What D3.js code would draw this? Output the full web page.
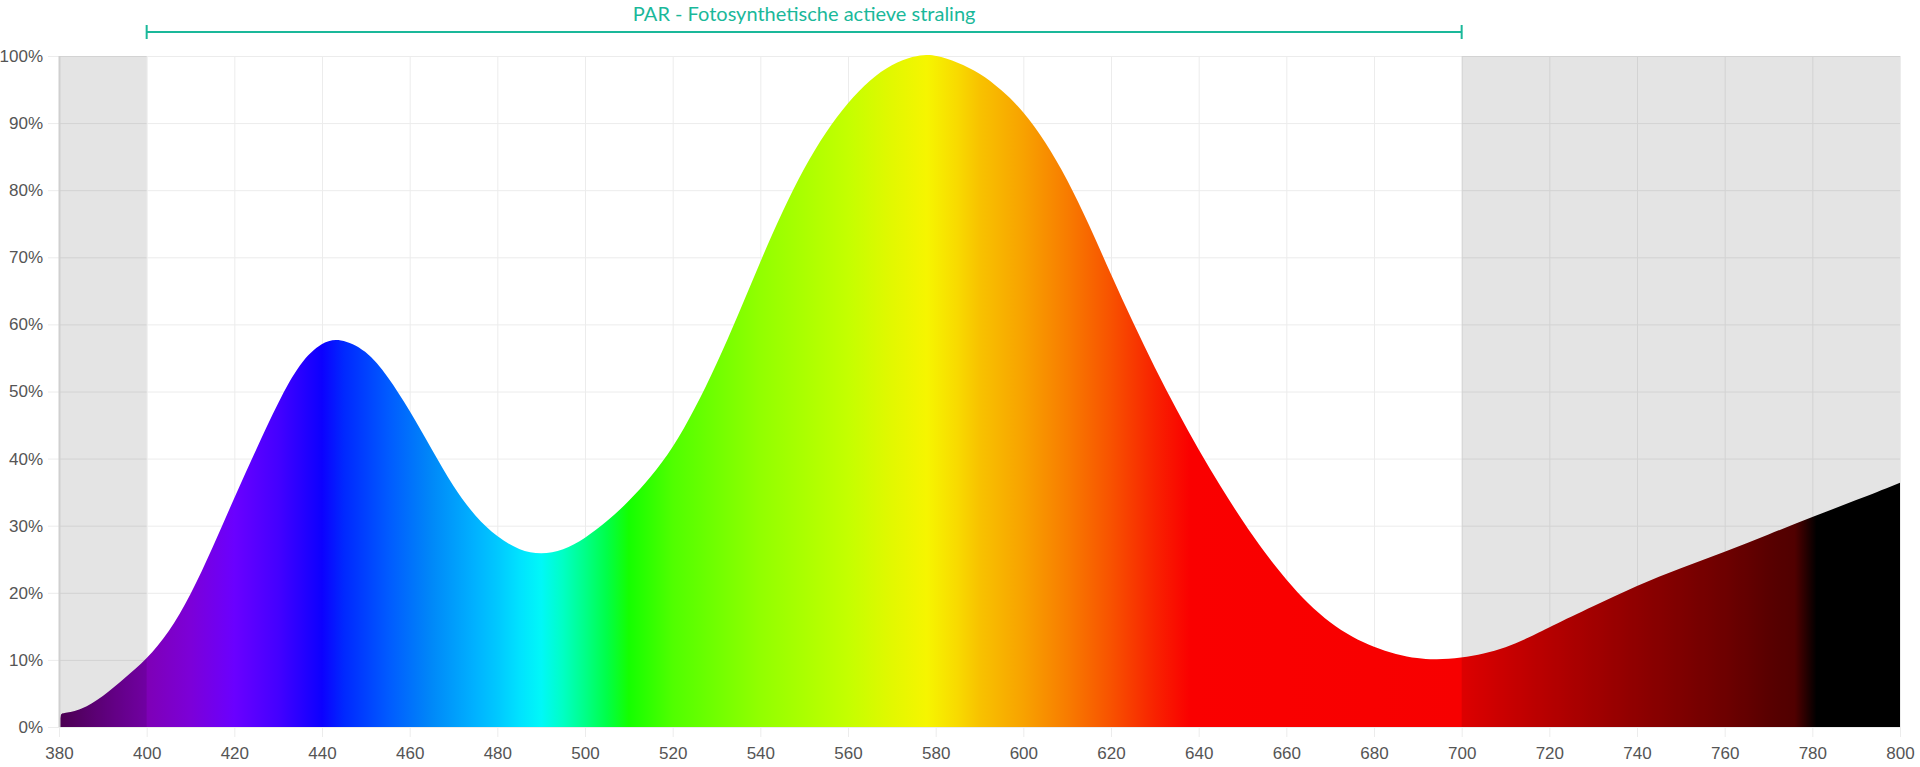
<!DOCTYPE html>
<html lang="nl">
<head>
	<meta charset="UTF-8">
	<title>PAR spectrum</title>
	<style type="text/css">
	body { margin: 0; background: #fff; }
	svg { display: block; font-family: Lato, "Open Sans", sans-serif; }
	.axis .domain { stroke: none; }
	.axis text { fill: #555; font-size: 17px; }
	.grid line { stroke: #ececec; }
	</style>
</head>
<body>
</body>
<script src="https://cdn.jsdelivr.net/npm/d3@7/dist/d3.min.js"></script>
<script>
// golflengte (nm) en relatieve gevoeligheid (%)
var wavelengths = [380, 380.3, 381, 385, 390, 395, 400, 405, 410, 415, 420, 425, 430, 435, 440, 444, 450, 455, 460, 465, 470, 475, 480, 485, 490, 495, 500, 505, 510, 515, 520, 525, 530, 535, 540, 545, 550, 555, 560, 565, 570, 575, 578, 580, 585, 590, 595, 600, 605, 610, 615, 620, 625, 630, 635, 640, 645, 650, 655, 660, 665, 670, 675, 680, 685, 690, 694, 700, 705, 710, 715, 720, 730, 740, 750, 760, 770, 780, 790, 800]
var values = [0, 2.0, 2.05, 2.5, 4.5, 7.3, 10.1, 14.0, 19.6, 26.6, 34.2, 41.4, 48.4, 54.4, 57.4, 58.0, 56.3, 52.3, 47.2, 41.4, 35.7, 31.3, 28.3, 26.3, 25.7, 26.3, 28.1, 30.6, 33.6, 37.2, 41.5, 47.3, 54.0, 61.5, 69.4, 76.8, 83.4, 88.8, 93.1, 96.5, 98.8, 100, 100.2, 100.1, 99.1, 97.5, 95.0, 91.8, 87.3, 81.7, 74.9, 67.4, 60.3, 53.5, 47.2, 41.3, 35.8, 30.7, 26.0, 21.9, 18.3, 15.5, 13.4, 11.9, 10.8, 10.2, 10.0, 10.3, 10.9, 11.8, 13.2, 14.9, 18.0, 21.1, 23.7, 26.1, 28.7, 31.3, 33.8, 36.4]

var xTicks = [380, 400, 420, 440, 460, 480, 500, 520, 540, 560, 580, 600, 620, 640, 660, 680, 700, 720, 740, 760, 780, 800]
var yTicks = [0, 10, 20, 30, 40, 50, 60, 70, 80, 90, 100]

// kleur van het spectrum per golflengte
var stopWavelengths = [380, 400, 410, 420, 430, 440, 445, 455, 465, 475, 480, 485, 490, 495, 500, 505, 510, 520, 540, 560, 570, 578, 585, 590, 600, 610, 620, 630, 638, 700, 720, 740, 760, 770, 776, 781, 800]
var stopColors = ["#55005c", "#7e00b6", "#7c00d8", "#6a00ff", "#4400ff", "#0c00ff", "#0028ff", "#005aff", "#0088f8", "#00b2ff", "#00c8ff", "#00e2ff", "#00f8f8", "#00ffc4", "#00ff88", "#00ff48", "#14ff00", "#50ff00", "#92ff00", "#c4ff00", "#e2f800", "#f6f500", "#f8da00", "#f8c200", "#f8a200", "#f87c00", "#f85200", "#f82200", "#fa0000", "#f70000", "#cb0000", "#a00000", "#7b0000", "#640000", "#5a0000", "#000000", "#000000"]

// PAR bereik en niet-PAR gebieden
var parRange = [400, 700]
var shaded = [[380, 400], [700, 800]]
var title = "PAR - Fotosynthetische actieve straling"

var margin = {top: 56, right: 20, bottom: 40, left: 59},
    width = 1920 - margin.left - margin.right,
    height = 767 - margin.top - margin.bottom;

var x = d3.scaleLinear().domain([380, 800]).range([0, width])
var y = d3.scaleLinear().domain([0, 100]).range([height, 0])

var data = wavelengths.map(function (w, i) { return {w: w, v: values[i]} })

var svg = d3.select("body").append("svg")
    .attr("width", 1920)
    .attr("height", 767)

var defs = svg.append("defs")
var grad = defs.append("linearGradient")
    .attr("id", "spectrum")
    .attr("gradientUnits", "userSpaceOnUse")
    .attr("x1", x(380)).attr("x2", x(800))
    .attr("y1", 0).attr("y2", 0)
grad.selectAll("stop")
    .data(stopWavelengths)
    .enter().append("stop")
    .attr("offset", function (d) { return (d - 380) / 420 })
    .attr("stop-color", function (d, i) { return stopColors[i] })

var g = svg.append("g")
    .attr("transform", "translate(" + margin.left + "," + margin.top + ")")

// rasterlijnen
g.append("g")
    .attr("class", "grid")
    .selectAll("line.h")
    .data(yTicks)
    .enter().append("line")
    .attr("x1", -11).attr("x2", width)
    .attr("y1", function (d) { return y(d) + 0.5 })
    .attr("y2", function (d) { return y(d) + 0.5 })

g.append("g")
    .attr("class", "grid")
    .selectAll("line.v")
    .data(xTicks)
    .enter().append("line")
    .attr("x1", function (d) { return x(d) + 0.5 })
    .attr("x2", function (d) { return x(d) + 0.5 })
    .attr("y1", 0).attr("y2", height + 10)

var area = d3.area()
    .x(function (d) { return x(d.w) })
    .y0(height)
    .y1(function (d) { return y(d.v) })
    .curve(d3.curveBasis)

g.append("path")
    .datum(data)
    .attr("fill", "url(#spectrum)")
    .attr("d", area)

// grijze overlay buiten PAR
g.selectAll("rect.shade")
    .data(shaded)
    .enter().append("rect")
    .attr("class", "shade")
    .attr("x", function (d) { return x(d[0]) })
    .attr("width", function (d) { return x(d[1]) - x(d[0]) })
    .attr("y", 0)
    .attr("height", height)
    .attr("fill", "rgba(0,0,0,0.105)")

// linker rand
g.append("line")
    .attr("x1", 0.5).attr("x2", 0.5)
    .attr("y1", 0).attr("y2", height)
    .attr("stroke", "#cfcfcf").attr("stroke-width", 2)

// assen
g.append("g")
    .attr("class", "axis")
    .attr("transform", "translate(0," + height + ")")
    .call(d3.axisBottom(x).tickValues(xTicks).tickSize(0).tickPadding(20).tickFormat(d3.format("d")))

g.append("g")
    .attr("class", "axis")
    .call(d3.axisLeft(y).tickValues(yTicks).tickSize(0).tickPadding(16).tickFormat(function (d) { return d + "%" }))

// PAR markering
var teal = "#1ab89a"
var par = svg.append("g").attr("transform", "translate(" + margin.left + ",0)")
par.append("line")
    .attr("x1", x(parRange[0])).attr("x2", x(parRange[1]))
    .attr("y1", 32).attr("y2", 32)
    .attr("stroke", teal).attr("stroke-width", 2)
par.selectAll("line.end")
    .data(parRange)
    .enter().append("line")
    .attr("x1", function (d) { return x(d) })
    .attr("x2", function (d) { return x(d) })
    .attr("y1", 25).attr("y2", 39)
    .attr("stroke", teal).attr("stroke-width", 2)
par.append("text")
    .attr("x", (x(parRange[0]) + x(parRange[1])) / 2)
    .attr("y", 21)
    .attr("text-anchor", "middle")
    .attr("fill", teal)
    .attr("font-size", 20)
    .text(title)
</script>
</html>
